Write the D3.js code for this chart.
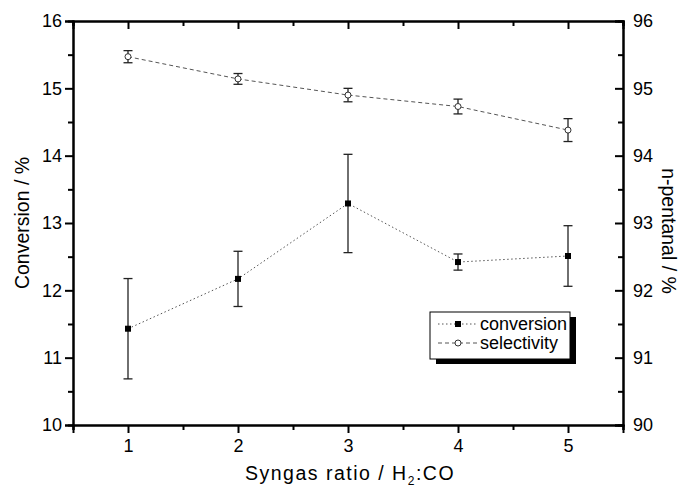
<!DOCTYPE html>
<html>
<head>
<meta charset="utf-8">
<script src="https://cdn.jsdelivr.net/npm/d3@7"></script>
<style>
  body { margin: 0; background: #fff; }
  svg text { font-family: 'Liberation Sans', Arial, sans-serif; fill: #000; }
</style>
</head>
<body>
<svg id="chart" width="681" height="489"></svg>
<script>
// syngas ratio H2:CO
const ratios = [1, 2, 3, 4, 5]
// conversion (%) with error
const conversion = [11.43, 12.17, 13.29, 12.42, 12.51]
const conversionErr = [0.745, 0.41, 0.73, 0.12, 0.45]
// n-pentanal selectivity (%) with error
const selectivity = [95.47, 95.14, 94.90, 94.73, 94.38]
const selectivityErr = [0.09, 0.08, 0.10, 0.11, 0.17]

const xTicks = [1, 2, 3, 4, 5]
const leftTicks = [10, 11, 12, 13, 14, 15, 16]
const rightTicks = [90, 91, 92, 93, 94, 95, 96]

const svg = d3.select('#chart')

const margin = { top: 21, right: 58, bottom: 64, left: 73 }
const width = 681 - margin.left - margin.right
const height = 489 - margin.top - margin.bottom

const x = d3.scaleLinear().domain([0.5, 5.5]).range([margin.left, margin.left + width])
const yL = d3.scaleLinear().domain([10, 16]).range([margin.top + height, margin.top])
const yR = d3.scaleLinear().domain([90, 96]).range([margin.top + height, margin.top])

const minorX = d3.range(0.5, 5.51, 0.5).filter(d => !xTicks.includes(d))
const minorL = d3.range(10.5, 16, 1)
const minorR = d3.range(90.5, 96, 1)

const fontTick = '18px'

// axes: left + bottom ticks outward, right + top inward
const bottomAxis = svg.append('g').attr('transform', `translate(0, ${margin.top + height})`)
bottomAxis.call(d3.axisBottom(x).tickValues(xTicks).tickSize(8).tickPadding(6).tickFormat(d3.format('d')))
bottomAxis.append('g').call(d3.axisBottom(x).tickValues(minorX).tickSize(5).tickFormat(''))

const topAxis = svg.append('g').attr('transform', `translate(0, ${margin.top})`)
topAxis.call(d3.axisBottom(x).tickValues(xTicks).tickSize(8).tickFormat(''))
topAxis.append('g').call(d3.axisBottom(x).tickValues(minorX).tickSize(5).tickFormat(''))

const leftAxis = svg.append('g').attr('transform', `translate(${margin.left}, 0)`)
leftAxis.call(d3.axisLeft(yL).tickValues(leftTicks).tickSize(8).tickPadding(3).tickFormat(d3.format('d')))
leftAxis.append('g').call(d3.axisLeft(yL).tickValues(minorL).tickSize(5).tickFormat(''))

const rightAxis = svg.append('g').attr('transform', `translate(${margin.left + width}, 0)`)
rightAxis.call(d3.axisLeft(yR).tickValues(rightTicks).tickSize(8).tickFormat(''))
rightAxis.append('g').call(d3.axisLeft(yR).tickValues(minorR).tickSize(5).tickFormat(''))
rightAxis.selectAll('.rlab')
  .data(rightTicks)
  .enter()
  .append('text')
  .attr('class', 'rlab')
  .attr('x', 10)
  .attr('y', d => yR(d))
  .attr('dy', '0.36em')
  .attr('text-anchor', 'start')
  .style('font-size', fontTick)
  .text(d => d)

svg.selectAll('.domain').attr('stroke', '#000').attr('stroke-width', 2)
svg.selectAll('.tick line').attr('stroke', '#000').attr('stroke-width', 2)
svg.selectAll('.tick text').style('font-size', fontTick).attr('fill', '#000').style('font-family', "'Liberation Sans', Arial, sans-serif")

// axis titles
svg.append('text')
  .attr('transform', `translate(29, ${margin.top + height / 2}) rotate(-90)`)
  .attr('text-anchor', 'middle')
  .style('font-size', '19.5px')
  .text('Conversion / %')

svg.append('text')
  .attr('transform', `translate(662, ${margin.top + height / 2 + 8}) rotate(90)`)
  .attr('text-anchor', 'middle')
  .style('font-size', '19.5px')
  .text('n-pentanal / %')

const xt = svg.append('text')
  .attr('x', 350)
  .attr('y', 480)
  .attr('text-anchor', 'middle')
  .style('font-size', '19.5px')
  .style('letter-spacing', '1.5px')
xt.append('tspan').text('Syngas ratio / H')
xt.append('tspan').attr('dy', 5).style('font-size', '12px').text('2')
xt.append('tspan').attr('dy', -5).text(':CO')

// series
const series = [
  { vals: conversion, err: conversionErr, y: yL, dash: '1.5,2.5', marker: 'square' },
  { vals: selectivity, err: selectivityErr, y: yR, dash: '4,3', marker: 'circle' }
]

series.forEach(s => {
  const pts = ratios.map((r, i) => ({ r, v: s.vals[i], e: s.err[i] }))
  const g = svg.append('g')

  g.append('path')
    .datum(pts)
    .attr('fill', 'none')
    .attr('stroke', '#555')
    .attr('stroke-width', 1)
    .attr('stroke-dasharray', s.dash)
    .attr('d', d3.line().x(d => x(d.r)).y(d => s.y(d.v)))

  const eb = g.selectAll('.eb').data(pts).enter().append('g').attr('stroke', '#222').attr('stroke-width', 1.3)
  eb.append('line')
    .attr('x1', d => x(d.r)).attr('x2', d => x(d.r))
    .attr('y1', d => s.y(d.v - d.e)).attr('y2', d => s.y(d.v + d.e))
  eb.append('line')
    .attr('x1', d => x(d.r) - 4.5).attr('x2', d => x(d.r) + 4.5)
    .attr('y1', d => s.y(d.v - d.e)).attr('y2', d => s.y(d.v - d.e))
  eb.append('line')
    .attr('x1', d => x(d.r) - 4.5).attr('x2', d => x(d.r) + 4.5)
    .attr('y1', d => s.y(d.v + d.e)).attr('y2', d => s.y(d.v + d.e))

  if (s.marker === 'square') {
    g.selectAll('.m').data(pts).enter().append('rect')
      .attr('x', d => x(d.r) - 3).attr('y', d => s.y(d.v) - 3)
      .attr('width', 6).attr('height', 6)
      .attr('fill', '#000')
  } else {
    g.selectAll('.m').data(pts).enter().append('circle')
      .attr('cx', d => x(d.r)).attr('cy', d => s.y(d.v))
      .attr('r', 3)
      .attr('fill', '#fff').attr('stroke', '#333').attr('stroke-width', 1)
  }
})

// legend
const lg = svg.append('g').attr('transform', 'translate(430, 312)')
lg.append('rect').attr('x', 6).attr('y', 5).attr('width', 140).attr('height', 47).attr('fill', '#000')
lg.append('rect').attr('x', 0).attr('y', 0).attr('width', 140).attr('height', 47)
  .attr('fill', '#fff').attr('stroke', '#000').attr('stroke-width', 1)

const legendItems = [
  { label: 'conversion', dash: '1.5,2.5', marker: 'square' },
  { label: 'selectivity', dash: '4,3', marker: 'circle' }
]
legendItems.forEach((d, i) => {
  const cy = 12 + i * 19
  lg.append('line').attr('x1', 8).attr('x2', 48).attr('y1', cy).attr('y2', cy)
    .attr('stroke', '#555').attr('stroke-dasharray', d.dash)
  if (d.marker === 'square') {
    lg.append('rect').attr('x', 25).attr('y', cy - 3).attr('width', 6).attr('height', 6).attr('fill', '#000')
  } else {
    lg.append('circle').attr('cx', 28).attr('cy', cy).attr('r', 3).attr('fill', '#fff').attr('stroke', '#333')
  }
  lg.append('text').attr('x', 50).attr('y', cy + 6).style('font-size', '18px').text(d.label)
})
</script>
</body>
</html>
